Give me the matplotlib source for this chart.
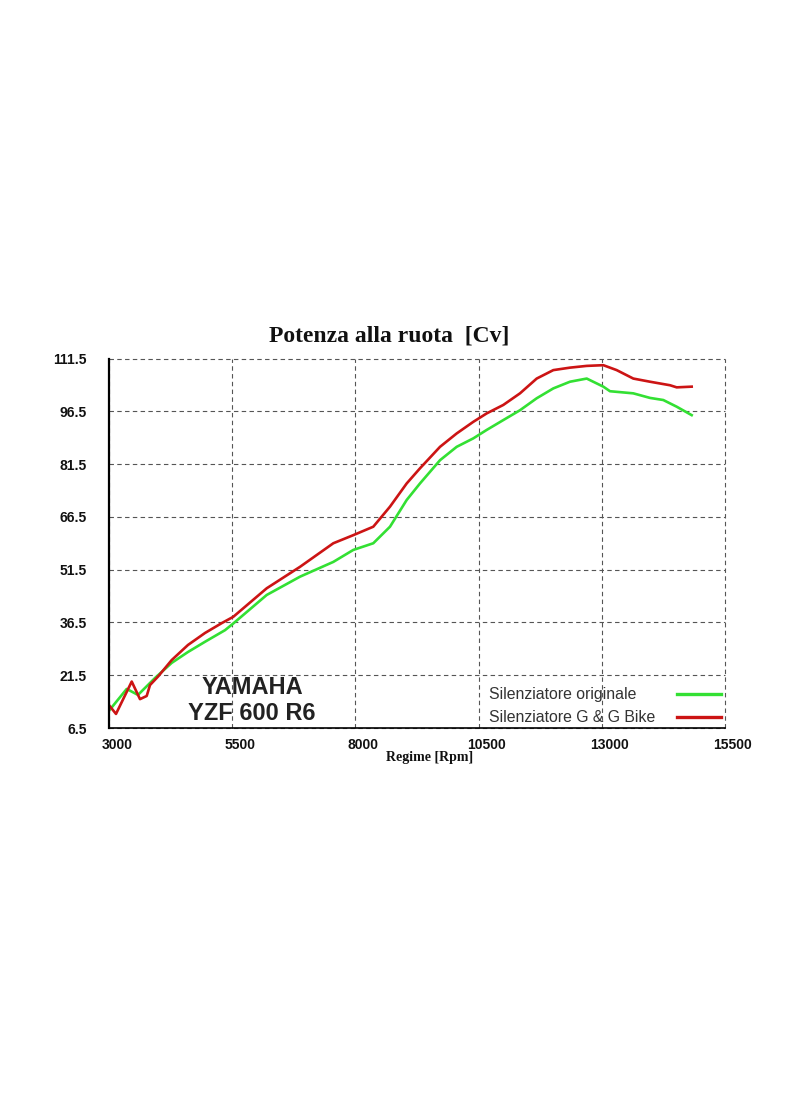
import numpy as np
import matplotlib
matplotlib.use('Agg')
import matplotlib.pyplot as plt
import matplotlib.transforms as mtransforms
from matplotlib.lines import Line2D

# power at the wheel [Cv] vs engine speed [rpm]
rpm_orig = [3000, 3359, 3588, 3933, 4272, 4603, 4948, 5354, 5522, 6200, 6876,
            7552, 7957, 8363, 8702, 9041, 9311, 9717, 10055, 10392, 10664,
            11001, 11340, 11679, 12016, 12354, 12694, 13031, 13166, 13639,
            13978, 14248, 14520, 14824]
cv_orig = [11.4, 17.6, 15.9, 20.7, 25.0, 28.1, 31.0, 34.3, 36.2, 44.3, 49.5,
           53.7, 57.1, 59.0, 63.7, 71.3, 76.0, 82.6, 86.4, 88.8, 91.2,
           94.0, 96.8, 100.2, 103.0, 104.9, 105.8, 103.5, 102.2, 101.6,
           100.3, 99.7, 97.8, 95.4]

rpm_gg = [3000, 3142, 3461, 3629, 3765, 3832, 3994, 4272, 4603, 4948, 5287,
          5522, 6200, 6876, 7552, 7957, 8363, 8702, 9041, 9311, 9717, 10055,
          10392, 10664, 11001, 11340, 11679, 12016, 12354, 12694, 13031,
          13302, 13639, 13978, 14384, 14520, 14824]
cv_gg = [13.0, 10.5, 19.7, 14.7, 15.6, 18.7, 21.1, 25.8, 30.1, 33.5, 36.3,
         38.1, 46.2, 52.3, 59.0, 61.3, 63.7, 69.4, 76.0, 80.3, 86.4, 90.2,
         93.5, 95.9, 98.3, 101.6, 105.8, 108.2, 108.9, 109.4, 109.6,
         108.2, 105.8, 104.9, 103.9, 103.3, 103.5]

labels = ['Silenziatore originale', 'Silenziatore G & G Bike']
xticks = [3000, 5500, 8000, 10500, 13000, 15500]
yticks = [6.5, 21.5, 36.5, 51.5, 66.5, 81.5, 96.5, 111.5]

W, H = 800, 1096
fig = plt.figure(figsize=(W/100, H/100), dpi=100)
ax = fig.add_axes([109/W, 1 - 728/H, (725 - 109)/W, (728 - 358.5)/H])

green = '#33e033'
red = '#cc1414'
ax.plot(rpm_orig, cv_orig, color=green, lw=1.9)
ax.plot(rpm_gg, cv_gg, color=red, lw=1.9)

ax.set_xlim(3000, 15500)
ax.set_ylim(6.5, 111.5)
ax.set_xticks(xticks)
ax.set_yticks(yticks)
ax.set_xticklabels([str(v) for v in xticks])
ax.set_yticklabels([str(v) for v in yticks])

tickfont = dict(family=['Liberation Sans Narrow', 'Liberation Sans'],
                weight='bold', size=10, color='#111111')
for lab in ax.get_xticklabels() + ax.get_yticklabels():
    lab.set(**tickfont)
ax.tick_params(length=0)
ax.tick_params(axis='x', pad=7)
ax.tick_params(axis='y', pad=16)
shift = mtransforms.ScaledTranslation(8/100, 0, fig.dpi_scale_trans)
for lab in ax.get_xticklabels():
    lab.set_transform(lab.get_transform() + shift)

ax.grid(True, color='#555555', ls=(0, (4, 3)), lw=0.8)
for gl in ax.get_xgridlines() + ax.get_ygridlines():
    gl.set_clip_on(False)
for side in ['top', 'right']:
    ax.spines[side].set_visible(False)
ax.spines['left'].set_linewidth(1.6)
ax.spines['bottom'].set_linewidth(1.2)

fig.text(389/W, 1 - 336/H, 'Potenza alla ruota  [Cv]', ha='center', va='center',
         family='Liberation Serif', weight='bold', size=17, color='#111111')
fig.text(430/W, 1 - 758/H, 'Regime [Rpm]', ha='center', va='center',
         family='Liberation Serif', weight='bold', size=10, color='#111111')

fig.text(252/W, 1 - 688/H, 'YAMAHA', ha='center', va='center',
         family='Liberation Sans', weight='bold', size=17, color='#222222')
fig.text(252/W, 1 - 714/H, 'YZF 600 R6', ha='center', va='center',
         family='Liberation Sans', weight='bold', size=17, color='#222222')

# legend: text on the left, line sample on the right
for i, (lab, col) in enumerate(zip(labels, [green, red])):
    yy = 1 - (694 + 23*i)/H
    fig.text(489/W, yy, lab, ha='left', va='center', family='Liberation Sans',
             size=11.4, color='#333333')
    fig.add_artist(Line2D([677/W, 721/W], [yy, yy], color=col, lw=2.4,
                          transform=fig.transFigure))

fig.savefig('out.png', dpi=100)
